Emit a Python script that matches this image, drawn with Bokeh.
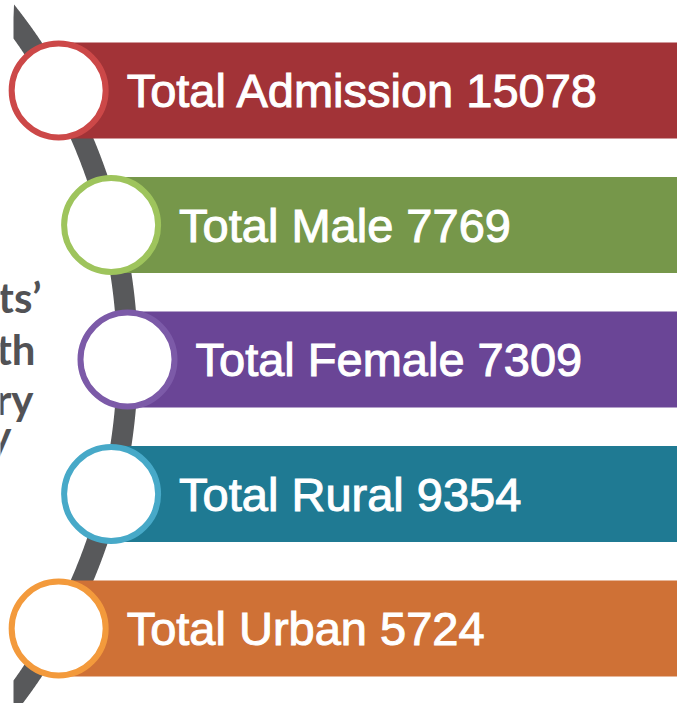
import numpy as np
from bokeh.plotting import figure
from bokeh.models import Range1d
from bokeh.core.properties import value
from bokeh.embed import file_html
from bokeh.resources import INLINE

# ---- data ----
labels = ["Total Admission", "Total Male", "Total Female", "Total Rural", "Total Urban"]
counts = [15078, 7769, 7309, 9354, 5724]
bar_colors = ["#A23337", "#76974A", "#6A4596", "#1F7A93", "#CF7136"]
ring_colors = ["#CC4848", "#9EC45C", "#7C5AA8", "#47A9C8", "#F39A3C"]
side_words = ["Students\u2019", "with", "Category", "Summary"]

# ---- layout ----
W, H = 677, 703

p = figure(width=W, height=H, x_range=Range1d(0, W), y_range=Range1d(H, 0),
           output_backend="svg", toolbar_location=None, min_border=0)
p.axis.visible = False
p.grid.visible = False
p.outline_line_color = None
p.background_fill_color = "white"
p.border_fill_color = "white"

# cut-off side caption on the left
side_right = [41, 35, 33, 11]
side_base = [296, 348, 398, 434]
p.text(x=side_right, y=side_base, text=side_words, text_align="right",
       text_baseline="alphabetic", text_font=value("Lato"), text_font_style="bold",
       text_font_size="42px", text_color="#525255")

# curved timeline band (arc of a large circle)
R, cy, half = 560.0, 359.0, 10.5
cx = 127.0 - R
x_min = 13.0
th = np.linspace(-0.8, 0.8, 800)
ro, ri = R + half, R - half
ox, oy = cx + ro * np.cos(th), cy + ro * np.sin(th)
ix, iy = cx + ri * np.cos(th), cy + ri * np.sin(th)
keep = ox >= x_min
ox, oy = ox[keep], oy[keep]
ix, iy = np.maximum(ix[keep], x_min), iy[keep]
px = np.concatenate([ox, ix[::-1]])
py = np.concatenate([oy, iy[::-1]])
p.patch(px, py, fill_color="#58595B", line_color=None)

# rows
n = len(labels)
row_top = 42.0
row_step = 134.5
bar_h = 96.0
yc = np.array([row_top + bar_h / 2 + i * row_step for i in range(n)])
xc = cx + np.sqrt(R**2 - (yc - cy) ** 2)

p.quad(left=xc, right=[W + 5] * n, top=yc - bar_h / 2, bottom=yc + bar_h / 2,
       fill_color=bar_colors, line_color=None)

p.circle(x=xc, y=yc, radius=47, fill_color="white", line_color=ring_colors,
         line_width=6)

texts = [f"{l} {c}" for l, c in zip(labels, counts)]
p.text(x=xc + 68, y=yc, text=texts, text_align="left", text_baseline="middle",
       text_font=value("Liberation Sans"), text_font_size="47px",
       text_color="white", text_outline_color="white")

open("out.html", "w").write(file_html(p, INLINE))
